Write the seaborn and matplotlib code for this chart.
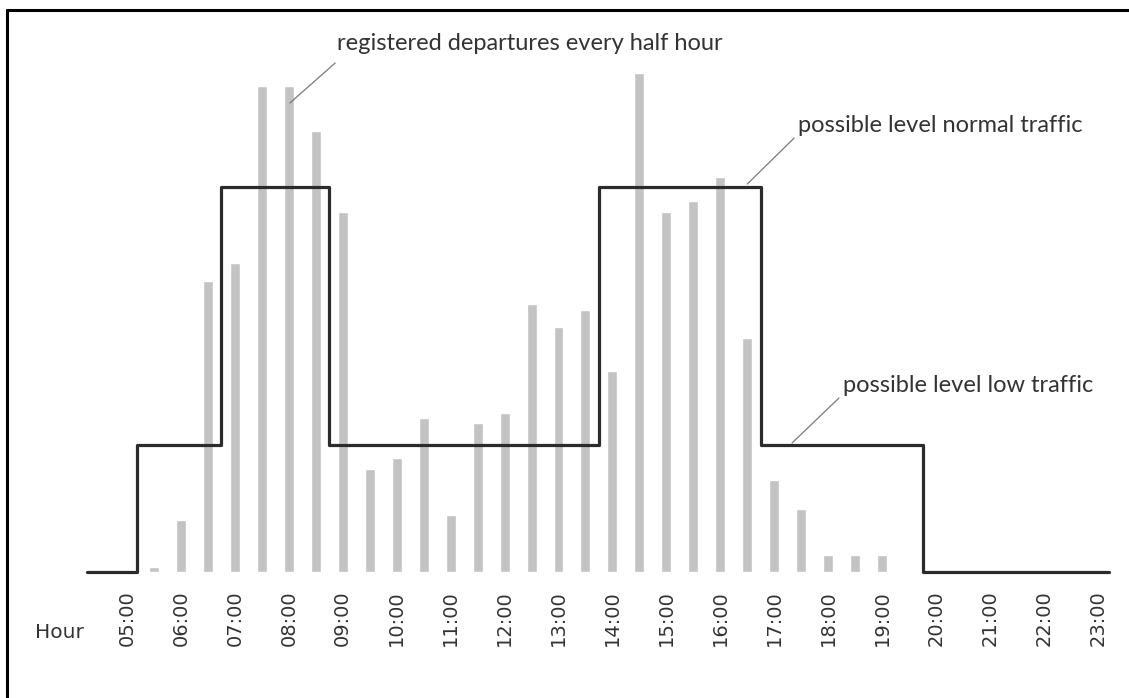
import matplotlib
matplotlib.use("Agg")
import matplotlib.pyplot as plt
from matplotlib.lines import Line2D
import seaborn as sns

# half-hour slots (decimal hours) and registered departures per slot
slot_hours = [5.5, 6.0, 6.5, 7.0, 7.5, 8.0, 8.5, 9.0, 9.5, 10.0, 10.5, 11.0, 11.5, 12.0,
              12.5, 13.0, 13.5, 14.0, 14.5, 15.0, 15.5, 16.0, 16.5, 17.0, 17.5, 18.0,
              18.5, 19.0]
departures = [5, 52, 291, 309, 486, 486, 441, 360, 103, 114, 154, 57, 149, 159,
              268, 245, 262, 201, 499, 360, 371, 395, 234, 92, 63, 17, 17, 17]

# service level steps
LOW, HIGH = 127, 385
step_hours = [4.25, 5.18, 6.75, 8.75, 13.75, 16.75, 19.75, 23.2]
step_levels = [0, LOW, HIGH, LOW, HIGH, LOW, 0, 0]

tick_hours = list(range(5, 24))
tick_labels = [f"{h:02d}:00" for h in tick_hours]

BAR_COLOR = "#c3c3c3"
LINE_COLOR = "#2b2b2b"
TEXT_COLOR = "#333333"
ANNOT_FONT = "Lato"

sns.set_theme(style="white")
plt.rcParams["font.family"] = ["DejaVu Sans"]

W, H = 1129, 698
fig = plt.figure(figsize=(W / 100, H / 100), dpi=100)
fig.patch.set_facecolor("white")
# axes bottom sits on the baseline, 126 px above the figure bottom
ax = fig.add_axes([0, 126 / H, 1, 572 / H])
ax.set_facecolor("none")

sns.barplot(x=slot_hours, y=departures, native_scale=True, width=0.37,
            color=BAR_COLOR, saturation=1, errorbar=None, ax=ax)
sns.lineplot(x=step_hours, y=step_levels, drawstyle="steps-post", color=LINE_COLOR,
             linewidth=2.3, errorbar=None, ax=ax, clip_on=False)

ax.set_xlim(2.646, 2.646 + W / 53.94)
ax.set_ylim(0, 572)
ax.set_xticks(tick_hours, labels=tick_labels, rotation=90)
ax.tick_params(axis="x", length=0, pad=13, labelsize=14, labelcolor=TEXT_COLOR)
ax.set_yticks([])
ax.set_xlabel("")
ax.set_ylabel("")
for s in ax.spines.values():
    s.set_visible(False)

fig.text(59 / W, 1 - 633 / H, "Hour", ha="center", va="center",
         fontsize=14.5, color=TEXT_COLOR)

# annotations with thin leader lines
def label(text, tx, ty, lx0, ly0, lx1, ly1):
    ax.plot([lx0, lx1], [ly0, ly1], color="#7a7a7a", linewidth=0.9, clip_on=False)
    ax.text(tx, ty, text, ha="left", va="center", fontsize=17,
            family=[ANNOT_FONT, "DejaVu Sans"], color=TEXT_COLOR)

label("registered departures every half hour", 8.89, 529, 8.86, 509, 8.02, 469)
label("possible level normal traffic", 17.44, 447, 17.37, 434, 16.5, HIGH + 3)
label("possible level low traffic", 18.28, 187, 18.2, 174, 17.33, LOW + 2)

# frame: only left and top edges show
fig.add_artist(Line2D([7 / W, 7 / W], [0, 1 - 10 / H], color="black", linewidth=2.2))
fig.add_artist(Line2D([7 / W, 1], [1 - 10 / H, 1 - 10 / H], color="black", linewidth=2.2))

fig.savefig("out.png", dpi=100, facecolor="white")
